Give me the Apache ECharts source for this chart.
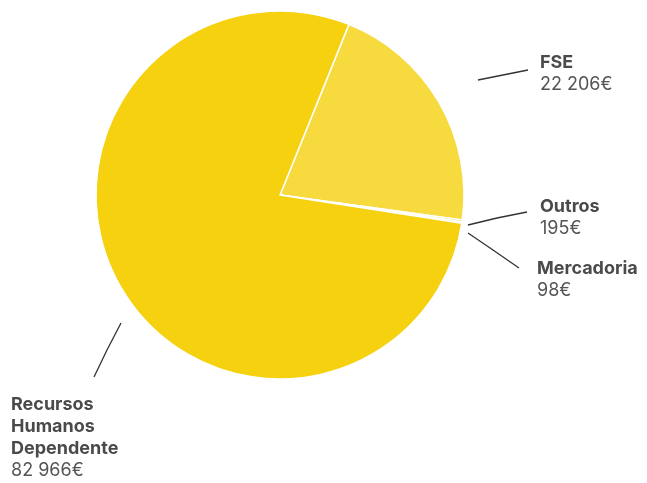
<!DOCTYPE html>
<html><head><meta charset="utf-8">
<script src="https://cdn.jsdelivr.net/npm/echarts@6/dist/echarts.min.js"></script>
<style>html,body{margin:0;padding:0;background:#fff}#c{width:647px;height:483px}</style>
</head><body><div id="c"></div>
<script>
var categories = ['FSE', 'Outros', 'Mercadoria', 'Recursos Humanos Dependente'];
var values = [22206, 195, 98, 82966];
var colors = ['#F6DA3E', '#F5D10F', '#F5D10F', '#F5D10F'];

function fmt(v){ return String(v).replace(/\B(?=(\d{3})+(?!\d))/g, ' ') + '€'; }

var labelPos = [
  {x:540, y:52, line:[[478,80],[503,75],[528,70]]},
  {x:540, y:196, line:[[468,225],[497,218],[527,212]]},
  {x:537, y:258, line:[[468,233],[493,250],[519,268]]},
  {x:11, y:394, line:[[121,323],[107,350],[94,377]]}
];

var chart = echarts.init(document.getElementById('c'));
chart.setOption({
  animation: false,
  series: [{
    type: 'pie',
    center: [280, 195],
    radius: [0, 184],
    startAngle: 68,
    clockwise: true,
    avoidLabelOverlap: false,
    itemStyle: {borderColor: '#fff', borderWidth: 1.5},
    label: {
      show: true,
      position: 'outside',
      formatter: function(p){
        var lines = p.name.split(' ').map(function(w){ return '{n|' + w + '}'; });
        lines.push('{v|' + fmt(p.value) + '}');
        return lines.join('\n');
      },
      rich: {
        n: {fontFamily: 'Inter', fontWeight: 'bold', fontSize: 18, color: '#4a4a4a', lineHeight: 22},
        v: {fontFamily: 'Inter', fontSize: 18, color: '#555', lineHeight: 22}
      }
    },
    labelLine: {show: true, lineStyle: {color: '#333', width: 1.3}},
    labelLayout: function(params){
      var p = labelPos[params.dataIndex];
      return {x: p.x, y: p.y, align: 'left', verticalAlign: 'top', labelLinePoints: p.line};
    },
    data: categories.map(function(c, i){
      return {name: c, value: values[i], itemStyle: {color: colors[i]}};
    })
  }]
});
</script></body></html>
